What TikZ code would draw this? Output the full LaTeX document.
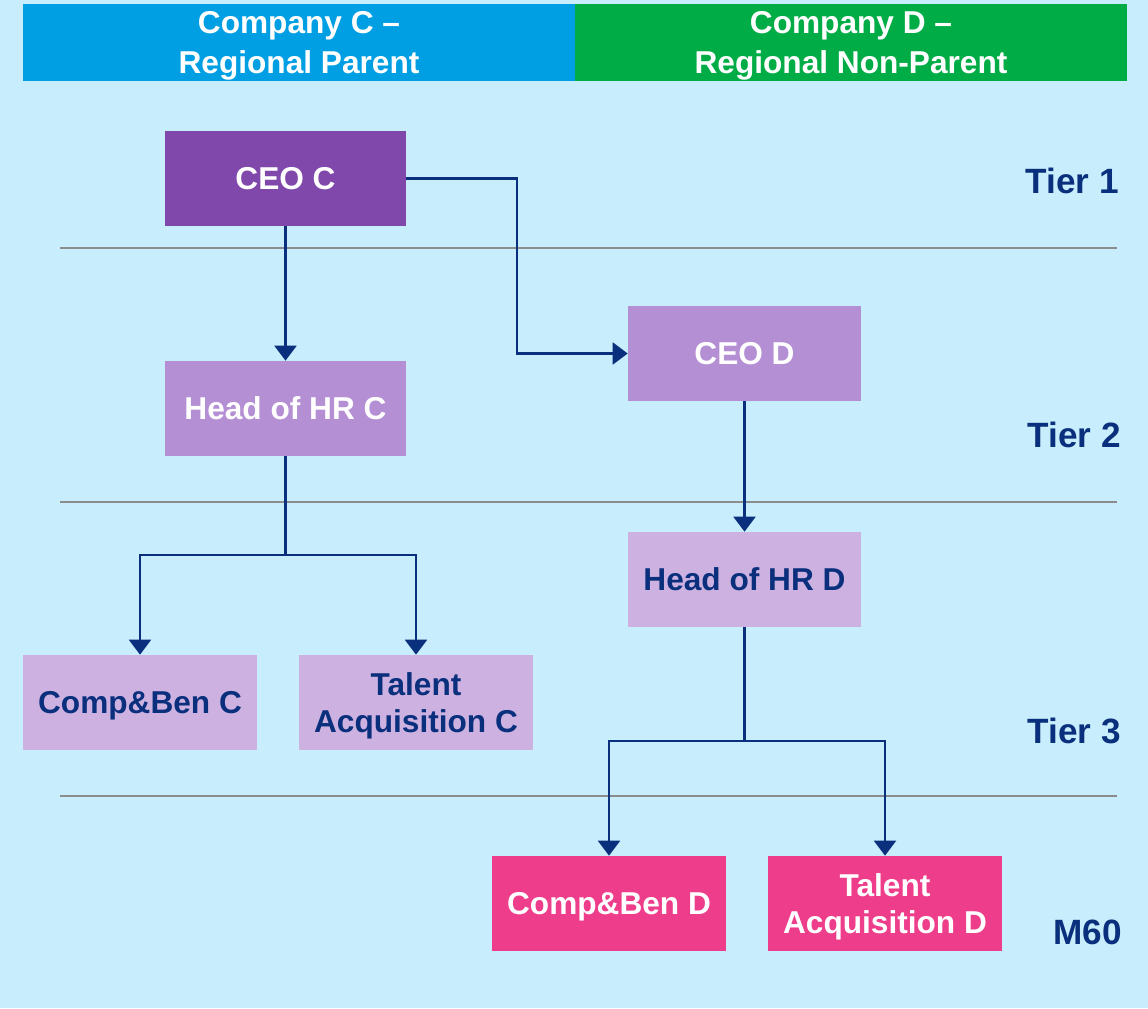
\documentclass[tikz,border=0pt]{standalone}
\usepackage{fontspec}
\setmainfont{Liberation Sans}
\usepackage{tikz}
\usetikzlibrary{arrows.meta}

\definecolor{bgcyan}{HTML}{C8EDFC}
\definecolor{headblue}{HTML}{009FE3}
\definecolor{headgreen}{HTML}{00AC45}
\definecolor{ceopurple}{HTML}{8048AB}
\definecolor{midpurple}{HTML}{B48FD4}
\definecolor{lightpurple}{HTML}{CDB2E1}
\definecolor{hotpink}{HTML}{EE3D8A}
\definecolor{navy}{HTML}{0A2F7C}
\definecolor{tiergray}{HTML}{8C8C8C}

\begin{document}
\begin{tikzpicture}[x = 0.02cm , y = -0.02cm ,
    box/.style = {minimum height = 1.9cm , inner sep = 0pt , text depth = -1pt , align = center , font = \bfseries\fontsize{18}{21.5}\selectfont},
    head/.style = {minimum width = 11.04cm , minimum height = 1.54cm , inner sep = 0pt , text depth = -1pt , align = center , text = white , font = \bfseries\fontsize{18}{22.5}\selectfont},
    link/.style = {draw = navy , line width = 1.2pt},
    tiplink/.style = {link , -{Triangle[width = 12.5pt , length = 8.5pt]}},
    tier/.style = {anchor = east , inner sep = 0pt , text = navy , font = \bfseries\fontsize{20}{24}\selectfont}]
    \fill[bgcyan] (0,0) rectangle (1148,1008); % Hintergrund
    \useasboundingbox (0,0) rectangle (1148,1008);

    % Kopfzeile
    \node[head , fill = headblue] (compC) at (299,42.5) {Company C --\\Regional Parent};
    \node[head , fill = headgreen] (compD) at (851,42.5) {Company D --\\Regional Non-Parent};

    % Trennlinien
    \draw[tiergray , line width = 1pt] (60,248) -- (1117,248);
    \draw[tiergray , line width = 1pt] (60,502) -- (1117,502);
    \draw[tiergray , line width = 1pt] (60,796) -- (1117,796);

    \node[tier] (tierA) at (1119,181) {Tier 1};
    \node[tier] (tierB) at (1121,435) {Tier 2};
    \node[tier] (tierC) at (1121,731) {Tier 3};
    \node[tier] (tierM) at (1122,932) {M60};

    % Firma C
    \node[box , minimum width = 4.82cm , fill = ceopurple , text = white] (ceoC) at (285.5,178.5) {CEO C};
    \node[box , minimum width = 4.82cm , fill = midpurple , text = white] (hrC) at (285.5,408.5) {Head of HR C};
    \node[box , minimum width = 4.68cm , fill = lightpurple , text = navy] (cbC) at (140,702.5) {Comp\&Ben C};
    \node[box , minimum width = 4.68cm , fill = lightpurple , text = navy] (taC) at (416,702.5) {Talent\\Acquisition C};

    % Firma D
    \node[box , minimum width = 4.66cm , fill = midpurple , text = white] (ceoD) at (744.5,353.5) {CEO D};
    \node[box , minimum width = 4.66cm , fill = lightpurple , text = navy] (hrD) at (744.5,579.5) {Head of HR D};
    \node[box , minimum width = 4.68cm , fill = hotpink , text = white] (cbD) at (609,903.5) {Comp\&Ben D};
    \node[box , minimum width = 4.68cm , fill = hotpink , text = white] (taD) at (885,903.5) {Talent\\Acquisition D};

    % Verbindungen
    \coordinate (bendCD) at (517,178.5);
    \coordinate (splitC) at (285.5,555);
    \coordinate (splitD) at (744.5,741);
    \draw[tiplink] (ceoC.south) -- (hrC.north);
    \draw[tiplink] (ceoC.east) -- (bendCD) |- (ceoD.west);
    \draw[link] (hrC.south) -- (splitC);
    \draw[tiplink] (splitC) -| (cbC.north);
    \draw[tiplink] (splitC) -| (taC.north);
    \draw[tiplink] (ceoD.south) -- (hrD.north);
    \draw[link] (hrD.south) -- (splitD);
    \draw[tiplink] (splitD) -| (cbD.north);
    \draw[tiplink] (splitD) -| (taD.north);
\end{tikzpicture}
\end{document}
